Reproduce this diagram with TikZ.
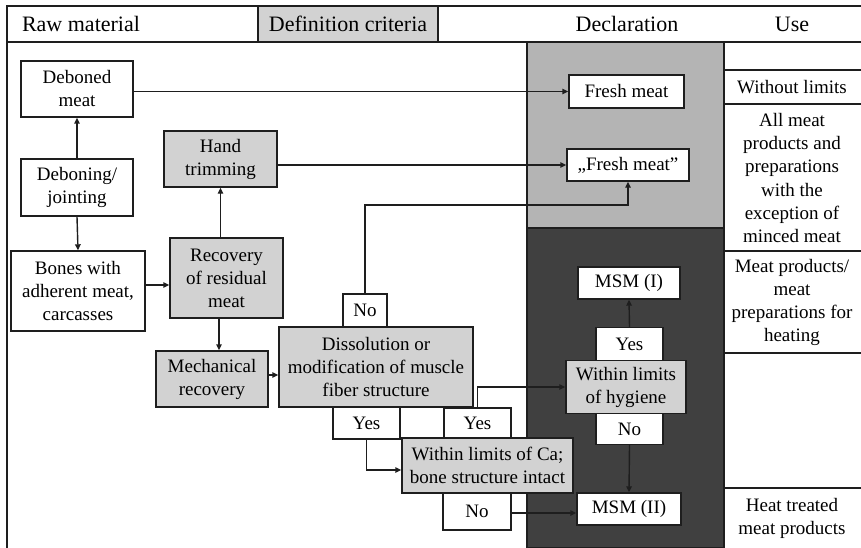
\documentclass[tikz,border=0pt]{standalone}
\usepackage{fontspec}
\setmainfont{Liberation Serif}
\usetikzlibrary{arrows.meta}
\definecolor{boxgray}{RGB}{210,210,210}
\definecolor{lightcol}{RGB}{180,180,180}
\definecolor{darkcol}{RGB}{64,64,64}
\definecolor{ink}{RGB}{30,30,30}
\tikzset{
  box/.style={draw=ink, line width=1.4pt, inner sep=0pt, align=center, text=black,
    font=\fontsize{19}{23}\selectfont},
  wbox/.style={box, fill=white},
  gbox/.style={box, fill=boxgray},
  arr/.style={draw=ink, line width=1.4pt, -{Triangle[length=6pt,width=5.5pt]}},
  ln/.style={draw=ink, line width=1.4pt},
  hdr/.style={font=\fontsize{22}{26}\selectfont, inner sep=0pt},
  usetxt/.style={font=\fontsize{19}{23}\selectfont, align=center, inner sep=0pt}
}
\begin{document}
\begin{tikzpicture}[x=1pt,y=-1pt]
\useasboundingbox (0,0) rectangle (861,548);
\fill[white] (0,0) rectangle (861,548);
% declaration column
\filldraw[fill=lightcol, ln] (527,42) rectangle (724,228);
\filldraw[fill=darkcol, ln] (527,228) rectangle (724,548);
% frame
\draw[ln, line width=1.8pt] (7,548) -- (7,6) -- (861,6);
\draw[ln] (7,42) -- (861,42);
\foreach \yy in {70,104,251,353,488} \draw[ln] (724,\yy) -- (861,\yy);
% header
\node[draw=ink, line width=1.4pt, fill=boxgray, minimum width=180pt, minimum height=36pt, inner sep=0pt] (defc) at (348,24) {};
\node[hdr] (hraw) at (81,24) {Raw material};
\node[hdr] (hdef) at (348,24) {Definition criteria};
\node[hdr] (hdec) at (627,24) {Declaration};
\node[hdr] (huse) at (792,24) {Use};
% use column texts
\node[usetxt] (u1) at (792,87) {Without limits};
\node[usetxt] (u2) at (792,178) {All meat\\products and\\preparations\\with the\\exception of\\minced meat};
\node[usetxt] (u3) at (792,302) {Meat products/\\meat\\preparations for\\heating};
\node[usetxt] (u4) at (792,518) {Heat treated\\meat products};
% raw material nodes
\node[wbox, minimum width=112pt, minimum height=56pt] (deboned) at (77,89) {Deboned\\meat};
\node[wbox, minimum width=112pt, minimum height=57pt] (deboning) at (77,187.5) {Deboning/\\jointing};
\node[wbox, minimum width=134pt, minimum height=80pt] (bones) at (78,291) {Bones with\\adherent meat,\\carcasses};
% criteria nodes
\node[gbox, minimum width=113pt, minimum height=56pt] (hand) at (220.5,159) {Hand\\trimming};
\node[gbox, minimum width=113pt, minimum height=80pt] (recov) at (226.5,278) {Recovery\\of residual\\meat};
\node[gbox, minimum width=112pt, minimum height=56pt] (mech) at (212,379) {Mechanical\\recovery};
\node[gbox, minimum width=194pt, minimum height=80pt] (diss) at (376,367) {Dissolution or\\modification of muscle\\fiber structure};
\node[wbox, minimum width=44pt, minimum height=33pt] (no1) at (365,310.5) {No};
\node[wbox, minimum width=67pt, minimum height=32pt] (yes1) at (366.5,423) {Yes};
\node[gbox, minimum width=171pt, minimum height=55pt] (ca) at (487.5,465.5) {Within limits of Ca;\\bone structure intact};
\node[wbox, minimum width=67pt, minimum height=30pt] (yes2) at (477.5,423) {Yes};
\node[wbox, minimum width=68pt, minimum height=37pt] (no2) at (477,511.5) {No};
% declaration nodes
\node[wbox, minimum width=115pt, minimum height=33pt] (fresh) at (626.5,91.5) {Fresh meat};
\node[wbox, minimum width=122pt, minimum height=32pt] (fresh2) at (628,165) {,,Fresh meat''};
\node[wbox, minimum width=102pt, minimum height=32pt] (msm1) at (629,283) {MSM (I)};
\node[wbox, minimum width=67pt, minimum height=33pt] (yes3) at (629.5,344) {Yes};
\node[gbox, minimum width=120pt, minimum height=53pt] (hyg) at (626,387) {Within limits\\of hygiene};
\node[wbox, minimum width=67pt, minimum height=31pt] (no3) at (629.5,429) {No};
\node[wbox, minimum width=104pt, minimum height=32pt] (msm2) at (629,509) {MSM (II)};
% connectors
\draw[arr] (deboning.north) -- (deboned.south);
\draw[arr] (deboning.south) -- (bones.north);
\draw[arr] ([yshift=6pt]bones.east) -- ([yshift=6pt]bones.east -| recov.west);
\draw[arr] (hand.south |- recov.north) -- (hand.south);
\draw[arr] ([xshift=-7.5pt]recov.south) -- ([xshift=-7.5pt]recov.south |- mech.north);
\draw[arr] ([yshift=4pt]mech.east) -- ([yshift=4pt]mech.east -| diss.west);
\draw[arr] (deboned.east |- fresh.west) -- (fresh.west);
\draw[arr] (hand.east |- fresh2.west) -- (fresh2.west);
\coordinate (nocorner) at (365,205);
\draw[arr] (no1.north) -- (nocorner) -| (fresh2.south);
\draw[arr] (yes1.south) |- ([yshift=-4.5pt]ca.west);
\draw[arr] (yes2.north) |- (hyg.west);
\draw[arr] (yes3.north) -- (msm1.south);
\draw[arr] (no3.south) -- (msm2.north);
\draw[arr] ([yshift=-1.5pt]no2.east) -- ([yshift=-1.5pt]no2.east -| msm2.west);
\end{tikzpicture}
\end{document}
